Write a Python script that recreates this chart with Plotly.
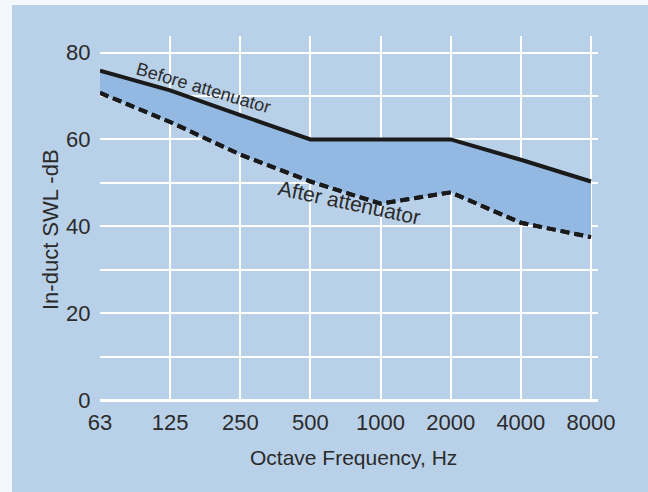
import plotly.graph_objects as go

freqs = ["63", "125", "250", "500", "1000", "2000", "4000", "8000"]
before = [75.8, 71.3, 65.6, 60, 60, 60, 55.3, 50.3]
after = [70.7, 64, 56.5, 50.3, 45.2, 47.8, 40.8, 37.5]
y_ticks = [0, 20, 40, 60, 80]

FONT = "Liberation Sans"
TXT = "#2b2b2b"
PANEL = "#b9d0e9"
FILL = "#93b8e2"

W, H = 648, 492
L, R, T, B = 100, 50, 36, 92
PW, PH = W - L - R, H - T - B
PX0, PY1 = L, H - B  # plot left / bottom in page pixels


def px(xp):
    return (xp - PX0) / PW


def py(yp):
    return (PY1 - yp) / PH


fig = go.Figure()
fig.add_trace(go.Scatter(x=freqs, y=after, mode="lines",
                         line=dict(color="#1a1a1a", width=4, dash="9px,5px"),
                         hoverinfo="skip", showlegend=False))
fig.add_trace(go.Scatter(x=freqs, y=before, mode="lines", fill="tonexty",
                         fillcolor=FILL,
                         line=dict(color="#1a1a1a", width=4),
                         hoverinfo="skip", showlegend=False))
fig.add_trace(go.Scatter(x=freqs, y=after, mode="lines",
                         line=dict(color="#1a1a1a", width=4, dash="9px,5px"),
                         hoverinfo="skip", showlegend=False))

fig.add_shape(type="rect", xref="paper", yref="paper",
              x0=px(12), x1=px(W + 4), y0=py(H + 4), y1=py(5),
              fillcolor=PANEL, line=dict(width=0), layer="below")

fig.add_annotation(x=1.474, y=71.9, xref="x", yref="y", text="Before attenuator",
                   showarrow=False, textangle=16.5,
                   font=dict(family=FONT, size=18, color=TXT))
fig.add_annotation(x=3.56, y=45.5, xref="x", yref="y", text="After attenuator",
                   showarrow=False, textangle=12,
                   font=dict(family=FONT, size=21, color=TXT))

fig.add_annotation(x=px(50), y=py(230), xref="paper", yref="paper",
                   xanchor="center", yanchor="middle",
                   text="In-duct SWL -dB", showarrow=False, textangle=-90,
                   font=dict(family=FONT, size=22, color=TXT))
fig.add_annotation(x=px(353), y=py(458), xref="paper", yref="paper",
                   xanchor="center", yanchor="middle",
                   text="Octave Frequency, Hz", showarrow=False,
                   font=dict(family=FONT, size=21, color=TXT))

fig.update_layout(
    width=W, height=H,
    margin=dict(l=L, r=R, t=T, b=B),
    paper_bgcolor="#f4f7fc",
    plot_bgcolor=PANEL,
    font=dict(family=FONT, color=TXT),
    xaxis=dict(
        type="category", range=[0, 7.1], automargin=False,
        showgrid=True, gridcolor="white", gridwidth=2,
        tickfont=dict(size=22, color=TXT),
        ticks="outside", ticklen=3, tickcolor="rgba(0,0,0,0)",
        showline=False, zeroline=False,
    ),
    yaxis=dict(
        range=[0, 83.8], tickvals=y_ticks, automargin=False,
        showgrid=True, gridcolor="white", gridwidth=2,
        minor=dict(dtick=10, showgrid=True, gridcolor="white", gridwidth=2),
        tickfont=dict(size=22, color=TXT),
        ticks="outside", ticklen=4, tickcolor="rgba(0,0,0,0)",
        zeroline=True, zerolinecolor="white", zerolinewidth=3,
    ),
)

fig.write_html(
    "out.html",
    config={"displayModeBar": False},
    post_script="document.body.style.margin='0';document.body.style.overflow='hidden';",
)
